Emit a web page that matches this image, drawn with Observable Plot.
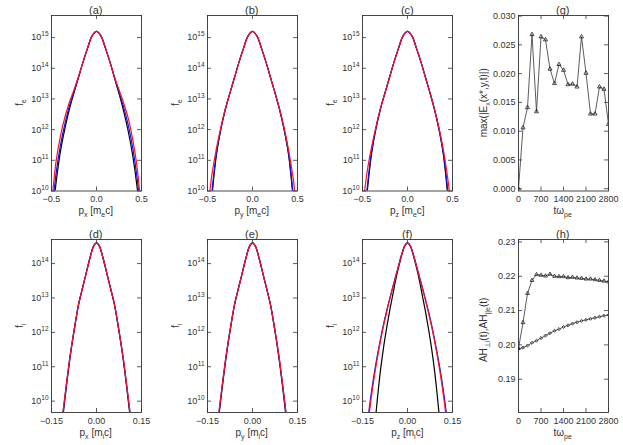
<!DOCTYPE html>
<html><head><meta charset="utf-8">
<script src="https://cdn.jsdelivr.net/npm/d3@7"></script>
<script src="https://cdn.jsdelivr.net/npm/@observablehq/plot@0.6"></script>
<style>
body{margin:0;background:#fff;}
#fig{position:relative;width:623px;height:445px;overflow:hidden;}
#fig > svg{position:absolute;overflow:visible;max-width:none;}
</style></head><body><div id="fig"></div>
<script>
// ---------- data (log10 of f) ----------
const pTop = [-0.50,-0.45,-0.40,-0.35,-0.30,-0.25,-0.20,-0.15,-0.10,-0.05,0.00,0.05,0.10,0.15,0.20,0.25,0.30,0.35,0.40,0.45,0.50];
const pBot = [-0.15,-0.14,-0.13,-0.12,-0.11,-0.10,-0.09,-0.08,-0.07,-0.06,-0.05,-0.04,-0.03,-0.02,-0.01,0.00,0.01,0.02,0.03,0.04,0.05,0.06,0.07,0.08,0.09,0.10,0.11,0.12,0.13,0.14,0.15];

const aBlack = [8.8,10.25,11.3,12.05,12.68,13.2,13.7,14.2,14.65,15.05,15.2,15.05,14.65,14.2,13.68,13.18,12.62,11.98,11.2,10.15,8.7];
const aBlue  = [9.1,10.55,11.5,12.2,12.78,13.24,13.71,14.2,14.65,15.05,15.2,15.05,14.65,14.2,13.7,13.22,12.75,12.18,11.45,10.45,9.0];
const aRed   = [9.5,10.95,11.8,12.42,12.9,13.3,13.73,14.2,14.65,15.05,15.2,15.05,14.65,14.2,13.72,13.3,12.88,12.4,11.72,10.8,9.3];

const bBlack = [8.2,9.85,11.2,12.04,12.68,13.2,13.7,14.2,14.65,15.05,15.2,15.05,14.65,14.2,13.7,13.2,12.66,12.02,11.2,9.8,8.0];
const bBlue  = [8.5,10.0,11.25,12.05,12.68,13.2,13.7,14.2,14.65,15.05,15.2,15.05,14.65,14.2,13.7,13.2,12.67,12.03,11.25,9.95,8.3];
const bRed   = [9.3,10.55,11.4,12.1,12.7,13.2,13.7,14.2,14.65,15.05,15.2,15.05,14.65,14.2,13.7,13.2,12.68,12.08,11.35,10.45,9.2];

const cBlack = [8.3,9.9,11.2,12.04,12.68,13.2,13.7,14.2,14.65,15.05,15.2,15.05,14.65,14.2,13.7,13.2,12.65,12.0,11.15,9.75,8.0];
const cBlue  = [8.6,10.05,11.28,12.06,12.68,13.2,13.7,14.2,14.65,15.05,15.2,15.05,14.65,14.2,13.7,13.2,12.66,12.02,11.22,9.95,8.3];
const cRed   = [9.4,10.6,11.42,12.1,12.7,13.2,13.7,14.2,14.65,15.05,15.2,15.05,14.65,14.2,13.7,13.2,12.67,12.06,11.32,10.35,9.1];

const dBlack = [6.5,7.3,8.1,8.9,9.7,10.45,11.15,11.75,12.3,12.8,13.17,13.52,13.88,14.22,14.5,14.6,14.5,14.22,13.88,13.52,13.17,12.8,12.3,11.75,11.15,10.45,9.7,8.9,8.1,7.3,6.5];
const dBlue  = [6.6,7.4,8.2,9.0,9.78,10.5,11.18,11.77,12.31,12.8,13.17,13.52,13.88,14.22,14.5,14.6,14.5,14.22,13.88,13.52,13.17,12.8,12.31,11.77,11.18,10.5,9.78,9.0,8.2,7.4,6.6];
const dRed   = [6.7,7.5,8.3,9.05,9.82,10.53,11.2,11.78,12.32,12.81,13.17,13.52,13.88,14.22,14.5,14.6,14.5,14.22,13.88,13.52,13.17,12.81,12.32,11.78,11.2,10.52,9.8,9.02,8.25,7.45,6.65];

const eBlack = [6.5,7.3,8.1,8.9,9.72,10.46,11.15,11.76,12.3,12.8,13.17,13.52,13.88,14.22,14.5,14.6,14.5,14.22,13.88,13.52,13.17,12.8,12.3,11.75,11.14,10.44,9.68,8.9,8.1,7.3,6.5];
const eBlue  = [6.6,7.4,8.2,9.0,9.8,10.51,11.19,11.78,12.31,12.8,13.17,13.52,13.88,14.22,14.5,14.6,14.5,14.22,13.88,13.52,13.17,12.8,12.31,11.77,11.18,10.5,9.77,9.0,8.2,7.4,6.6];
const eRed   = [6.7,7.5,8.3,9.05,9.83,10.53,11.2,11.78,12.32,12.81,13.17,13.52,13.88,14.22,14.5,14.6,14.5,14.22,13.88,13.52,13.17,12.81,12.32,11.78,11.2,10.52,9.8,9.02,8.25,7.45,6.65];

const fBlack = [5.6,6.5,7.4,8.3,9.2,10.1,10.9,11.55,12.1,12.6,13.05,13.5,13.88,14.22,14.5,14.6,14.5,14.22,13.88,13.5,13.05,12.6,12.1,11.55,10.9,10.1,9.2,8.3,7.4,6.5,5.6];
const fBlue  = [8.1,8.9,9.62,10.28,10.85,11.35,11.81,12.23,12.61,12.96,13.29,13.61,13.93,14.25,14.5,14.6,14.5,14.25,13.93,13.61,13.29,12.96,12.61,12.23,11.81,11.35,10.85,10.28,9.62,8.9,8.1];
const fRed   = [7.9,8.7,9.45,10.15,10.75,11.28,11.75,12.18,12.57,12.93,13.27,13.6,13.93,14.25,14.5,14.6,14.5,14.25,13.93,13.6,13.27,12.93,12.57,12.18,11.75,11.28,10.75,10.15,9.45,8.7,7.9];

const tSteps = [0,140,280,420,560,700,840,980,1120,1260,1400,1540,1680,1820,1960,2100,2240,2380,2520,2660,2800];
const gEmax  = [0.0000,0.0106,0.0141,0.0268,0.0134,0.0264,0.0259,0.0208,0.0183,0.0216,0.0206,0.0181,0.0182,0.0177,0.0264,0.0201,0.0130,0.0130,0.0177,0.0173,0.0112];
const hPerpI = [0.1990,0.2065,0.2150,0.2188,0.2205,0.2203,0.2201,0.2206,0.2200,0.2199,0.2199,0.2196,0.2197,0.2195,0.2194,0.2192,0.2192,0.2190,0.2188,0.2186,0.2184];
const hParE  = [0.1988,0.1992,0.1998,0.2006,0.2012,0.2020,0.2027,0.2034,0.2041,0.2046,0.2052,0.2057,0.2062,0.2066,0.2070,0.2073,0.2076,0.2079,0.2082,0.2085,0.2087];

// tick values
const logTopTicks = [1e10,1e11,1e12,1e13,1e14,1e15];
const logBotTicks = [1e10,1e11,1e12,1e13,1e14];
const pTopTicks = [-0.5,0,0.5];
const pBotTicks = [-0.15,0,0.15];
const tTicks = [0,700,1400,2100,2800];
const gTicks = [0,0.005,0.010,0.015,0.020,0.025,0.030];
const hTicks = [0.19,0.20,0.21,0.22,0.23];

const colors = ["#000000","#1010ff","#ff1020"];
const FONT = "Liberation Sans, Arial, Helvetica, sans-serif";
const ML = 45, MR = 8, MT = 5, MB = 22, FW = 90;

function curveRows(ps, logs){ return ps.map((p,i)=>({p, f: Math.pow(10, logs[i])})); }

function panel({xDomain, yDomain, yType, xTicks, yTicks, xFmt, yFmt, fh, marks}){
  const ticks = [
    Plot.tickX(xTicks, {x: d=>d, insetTop: fh-4, stroke:"#333", strokeWidth:0.8}),
    Plot.tickX(xTicks, {x: d=>d, insetBottom: fh-4, stroke:"#333", strokeWidth:0.8}),
    Plot.tickY(yTicks, {y: d=>d, insetRight: FW-4, stroke:"#333", strokeWidth:0.8}),
    Plot.tickY(yTicks, {y: d=>d, insetLeft: FW-4, stroke:"#333", strokeWidth:0.8}),
  ];
  const svg = Plot.plot({
    width: FW+ML+MR, height: fh+MT+MB,
    marginLeft: ML, marginRight: MR, marginTop: MT, marginBottom: MB,
    style: {fontFamily: FONT, fontSize: "9px", color: "#333", background: "transparent", overflow: "visible"},
    x: {domain: xDomain},
    y: {domain: yDomain, type: yType || "linear"},
    marks: [
      ...marks,
      ...ticks,
      Plot.frame({stroke:"#333", strokeWidth:0.9}),
      Plot.axisX(xTicks, {tickSize:0, tickPadding:5, tickFormat:xFmt, label:null}),
      Plot.axisY(yTicks, {tickSize:0, tickPadding:3, tickFormat:yFmt, label:null})
    ]
  });
  d3.select(svg).selectAll("text").each(function(){
    const m = /^10\^(\d+)$/.exec(this.textContent);
    if (m) {
      const s = d3.select(this);
      s.text("10");
      s.append("tspan").attr("dy", -4).attr("font-size", 6.5).text(m[1]);
    }
  });
  return svg;
}

const logFmt = d => "10^" + Math.round(Math.log10(d));
function curves(ps, arrs){
  return arrs.map((a,i)=>Plot.line(curveRows(ps,a), {x:"p", y:"f", stroke: colors[i], strokeWidth:1.2, curve:"catmull-rom", clip:true}));
}

const fig = document.getElementById("fig");
const cols = [50.7, 206.7, 362.3, 517.7];
const rowTop = [15, 239.3];
const rowH = [175.5, 173];

function place(svg, c, r){
  svg.style.left = (cols[c]-ML) + "px";
  svg.style.top = (rowTop[r]-MT) + "px";
  fig.appendChild(svg);
}

const topSets = [[aBlack,aBlue,aRed],[bBlack,bBlue,bRed],[cBlack,cBlue,cRed]];
topSets.forEach((s,i)=>{
  place(panel({xDomain:[-0.5,0.5], yDomain:[1e10, Math.pow(10,15.72)], yType:"log",
    xTicks:pTopTicks, yTicks:logTopTicks, xFmt:d3.format(".1f"), yFmt:logFmt, fh:rowH[0],
    marks: curves(pTop, s)}), i, 0);
});
const botSets = [[dBlack,dBlue,dRed],[eBlack,eBlue,eRed],[fBlack,fBlue,fRed]];
botSets.forEach((s,i)=>{
  place(panel({xDomain:[-0.15,0.15], yDomain:[Math.pow(10,9.67), Math.pow(10,14.70)], yType:"log",
    xTicks:pBotTicks, yTicks:logBotTicks, xFmt:d3.format(".2f"), yFmt:logFmt, fh:rowH[1],
    marks: curves(pBot, s)}), i, 1);
});

// (g)
const gRows = tSteps.map((t,i)=>({t, v:gEmax[i]}));
place(panel({xDomain:[0,2800], yDomain:[-0.0004,0.0301], xTicks:tTicks, yTicks:gTicks,
  xFmt:d3.format("d"), yFmt:d3.format(".3f"), fh:rowH[0],
  marks:[
    Plot.line(gRows, {x:"t", y:"v", stroke:"#333", strokeWidth:0.8, clip:true}),
    Plot.dot(gRows, {x:"t", y:"v", symbol:"triangle", r:1.5, stroke:"#222", strokeWidth:0.8, fill:"none", clip:true})
  ]}), 3, 0);

// (h)
const hRowsU = tSteps.map((t,i)=>({t, v:hPerpI[i]}));
const hRowsL = tSteps.map((t,i)=>({t, v:hParE[i]}));
place(panel({xDomain:[0,2800], yDomain:[0.1803,0.2307], xTicks:tTicks, yTicks:hTicks,
  xFmt:d3.format("d"), yFmt:d3.format(".2f"), fh:rowH[1],
  marks:[
    Plot.line(hRowsU, {x:"t", y:"v", stroke:"#333", strokeWidth:0.8, clip:true}),
    Plot.dot(hRowsU, {x:"t", y:"v", symbol:"triangle", r:1.4, stroke:"#222", strokeWidth:0.8, fill:"none", clip:true}),
    Plot.line(hRowsL, {x:"t", y:"v", stroke:"#333", strokeWidth:0.8, clip:true}),
    Plot.dot(hRowsL, {x:"t", y:"v", symbol:"diamond2", r:1.4, stroke:"#222", strokeWidth:0.8, fill:"none", clip:true})
  ]}), 3, 1);

// overlay svg for titles and axis labels
const root = d3.select(fig).append("svg").attr("width",623).attr("height",445)
  .style("left","0px").style("top","0px").style("font-family", FONT);

function rich(x, y, parts, opt={}){
  const size = opt.size || 10;
  const t = root.append("text").attr("x", x).attr("y", y).attr("text-anchor", "middle")
    .attr("font-size", size).attr("fill", "#333");
  if (opt.rotate) t.attr("transform", `rotate(${opt.rotate},${x},${y})`);
  let shift = 0;
  for (const [s, m] of parts){
    const target = m === "sub" ? size*0.3 : m === "sup" ? -size*0.4 : 0;
    const ts = t.append("tspan").attr("dy", target - shift).attr("fill", "#333").text(s);
    if (m !== "n") ts.attr("font-size", size*0.7);
    shift = target;
  }
}

const titles = [["(a)","(b)","(c)","(g)"],["(d)","(e)","(f)","(h)"]];
const titleY = [13.5, 237.5];
titles.forEach((row,r)=>row.forEach((s,c)=>rich(cols[c]+FW/2, titleY[r], [[s,"n"]], {size:11})));

const xlabY = [213.5, 435.5];
const comps = ["x","y","z"];
comps.forEach((k,c)=>{
  rich(cols[c]+FW/2, xlabY[0], [["p","n"],[k,"sub"],[" [m","n"],["e","sub"],["c]","n"]]);
  rich(cols[c]+FW/2, xlabY[1], [["p","n"],[k,"sub"],[" [m","n"],["i","sub"],["c]","n"]]);
});
rich(cols[3]+FW/2, xlabY[0], [["tω","n"],["pe","sub"]]);
rich(cols[3]+FW/2, xlabY[1], [["tω","n"],["pe","sub"]]);

for (let c=0;c<3;c++){
  rich(cols[c]-28, rowTop[0]+rowH[0]/2, [["f","n"],["e","sub"]], {rotate:-90});
  rich(cols[c]-28, rowTop[1]+rowH[1]/2, [["f","n"],["i","sub"]], {rotate:-90});
}
rich(cols[3]-31, rowTop[0]+rowH[0]/2, [["max(|E","n"],["x","sub"],["(x*,y,t)|)","n"]], {rotate:-90});
rich(cols[3]-31, rowTop[1]+rowH[1]/2+4, [["AH","n"],["⊥i","sub"],["(t),AH","n"],["||e","sub"],["(t)","n"]], {rotate:-90});
</script>
</body></html>
